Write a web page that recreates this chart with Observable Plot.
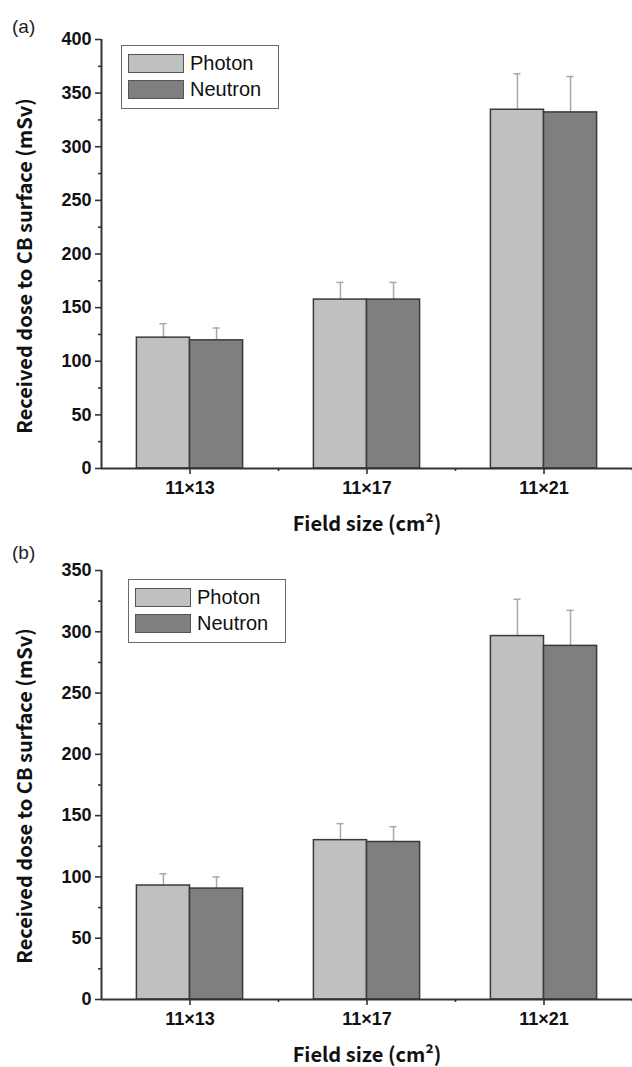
<!DOCTYPE html>
<html>
<head>
<meta charset="utf-8">
<script src="https://cdn.jsdelivr.net/npm/d3@7"></script>
<script src="https://cdn.jsdelivr.net/npm/@observablehq/plot@0.6"></script>
<style>
  body { margin: 0; background: #fff; }
  #wrap { position: relative; width: 632px; height: 1067px; overflow: hidden; background: #fff; }
  .panel { position: absolute; left: 0; width: 632px; }
  .tag { position: absolute; left: 12px; font-family: "Liberation Sans", Arial, sans-serif; font-size: 19px; color: #222; line-height: 1; }
  .legend { position: absolute; border: 1.5px solid #6a6a6a; background: #fff; box-sizing: border-box; }
  .legend .row { position: absolute; left: 6px; display: flex; align-items: center; height: 19px; }
  .legend .sw { width: 56px; height: 19px; border: 1.5px solid #555; box-sizing: border-box; }
  .legend .lt { margin-left: 6px; font-family: "Liberation Sans", Arial, sans-serif; font-size: 20px; color: #111; }
  svg g[aria-label="y-axis tick label"], svg g[aria-label="x-axis tick label"] {
    font-family: "Liberation Sans", Arial, sans-serif; font-weight: bold; font-size: 18px; fill: #111;
  }
  svg g[aria-label="y-axis label"], svg g[aria-label="x-axis label"] {
    font-family: "Noto Sans CJK KR", "Open Sans", sans-serif; font-weight: bold; font-size: 20px; fill: #111;
  }
  svg g[aria-label="y-axis tick"], svg g[aria-label="x-axis tick"] { stroke: #333; stroke-width: 1.6; }
</style>
</head>
<body>
<div id="wrap"></div>
<script>
// ---- data ----
const categories = ["11×13", "11×17", "11×21"];
const series = ["Photon", "Neutron"];
const colors = ["#c0c0c0", "#7f7f7f"];

// panel (a)
const photonA = [122, 157.5, 334.5];
const photonErrA = [13, 16, 33.5];
const neutronA = [119.5, 157.5, 332];
const neutronErrA = [11.5, 16, 33.5];

// panel (b)
const photonB = [93, 130, 296.5];
const photonErrB = [9.5, 13.5, 30];
const neutronB = [90.5, 128.5, 288.5];
const neutronErrB = [9.5, 12.5, 29];

const yTicksA = [0, 50, 100, 150, 200, 250, 300, 350, 400];
const yTicksB = [0, 50, 100, 150, 200, 250, 300, 350];

const yTitle = "Received dose to CB surface (mSv)";
const xTitle = "Field size (cm²)";

// ---- layout constants ----
const barWidth = 0.3;   // in category units
const capHalf = 0.02;

function makeRows(photon, photonErr, neutron, neutronErr) {
  const rows = [];
  categories.forEach((c, i) => {
    rows.push({cat: c, series: "Photon", value: photon[i], err: photonErr[i], x1: i - barWidth, x2: i});
    rows.push({cat: c, series: "Neutron", value: neutron[i], err: neutronErr[i], x1: i, x2: i + barWidth});
  });
  rows.forEach(d => { d.xc = (d.x1 + d.x2) / 2; d.top = d.value + d.err; });
  return rows;
}

function panel(rows, yTicks, height, marginTop, marginBottom) {
  const yMax = yTicks[yTicks.length - 1];
  const minor = yTicks.slice(0, -1).map(t => t + 25);
  return Plot.plot({
    width: 632,
    height,
    marginLeft: 101,
    marginRight: 0,
    marginTop,
    marginBottom,
    style: {background: "#fff", color: "#222", overflow: "visible"},
    x: {type: "linear", domain: [-0.5, categories.length - 0.5]},
    y: {domain: [0, yMax]},
    color: {domain: series, range: colors},
    marks: [
      Plot.ruleX(rows, {x: "xc", y1: "value", y2: "top", stroke: "#a9a9a9", strokeWidth: 1.5}),
      Plot.ruleY(rows, {y: "top", x1: d => d.xc - capHalf, x2: d => d.xc + capHalf, stroke: "#a9a9a9", strokeWidth: 1.5}),
      Plot.rectY(rows, {x1: "x1", x2: "x2", y1: 0, y2: "value", fill: "series", stroke: "#3a3a3a", strokeWidth: 1.5}),
      Plot.ruleY([0], {stroke: "#333", strokeWidth: 2}),
      Plot.ruleX([-0.5], {stroke: "#333", strokeWidth: 2}),
      Plot.axisY({ticks: yTicks, tickSize: 6, tickPadding: 4, tickFormat: d => String(d), label: null}),
      Plot.axisY({ticks: minor, tickSize: 3, tickFormat: () => "", label: null}),
      Plot.axisY({ticks: [], label: yTitle, labelAnchor: "center", labelArrow: "none", labelOffset: 86}),
      Plot.axisX({ticks: d3.range(categories.length), tickSize: 6, tickPadding: 7, tickFormat: i => categories[i], label: null}),
      Plot.axisX({ticks: d3.range(categories.length).map(i => i + 0.5), tickSize: 3, tickFormat: () => "", label: null}),
      Plot.axisX({ticks: [], label: xTitle, labelAnchor: "center", labelArrow: "none", labelOffset: 62})
    ]
  });
}

function legend(left, top) {
  const box = document.createElement("div");
  box.className = "legend";
  Object.assign(box.style, {left: left + "px", top: top + "px", width: "158px", height: "64px"});
  series.forEach((s, i) => {
    const row = document.createElement("div");
    row.className = "row";
    row.style.top = (8 + i * 26) + "px";
    const sw = document.createElement("div");
    sw.className = "sw";
    sw.style.background = colors[i];
    const lt = document.createElement("span");
    lt.className = "lt";
    lt.textContent = s;
    row.appendChild(sw);
    row.appendChild(lt);
    box.appendChild(row);
  });
  return box;
}

const wrap = document.getElementById("wrap");

// place the y-axis title so that its centre sits at (cx, cy) within the svg
function placeYTitle(chart, cx, cy) {
  const g = chart.querySelector('g[aria-label="y-axis label"]');
  if (!g) return;
  const s = chart.getBoundingClientRect();
  const r = g.getBoundingClientRect();
  const dx = cx - (r.left + r.width / 2 - s.left);
  const dy = cy - (r.top + r.height / 2 - s.top);
  g.setAttribute("transform", `translate(${dx},${dy}) ` + (g.getAttribute("transform") || ""));
}

function addPanel(tagText, tagTop, top, chart, legLeft, legTop, titleCx, titleCy) {
  const p = document.createElement("div");
  p.className = "panel";
  p.style.top = top + "px";
  p.appendChild(chart);
  wrap.appendChild(p);
  const t = document.createElement("div");
  t.className = "tag";
  t.style.top = tagTop + "px";
  t.textContent = tagText;
  wrap.appendChild(t);
  wrap.appendChild(legend(legLeft, legTop));
  placeYTitle(chart, titleCx, titleCy);
}

const chartA = panel(makeRows(photonA, photonErrA, neutronA, neutronErrA), yTicksA, 540, 39, 72);
addPanel("(a)", 17, 0, chartA, 121, 45, 23, 266);

const chartB = panel(makeRows(photonB, photonErrB, neutronB, neutronErrB), yTicksB, 527, 30, 68);
addPanel("(b)", 543, 540, chartB, 128, 579, 23, 256);
</script>
</body>
</html>
